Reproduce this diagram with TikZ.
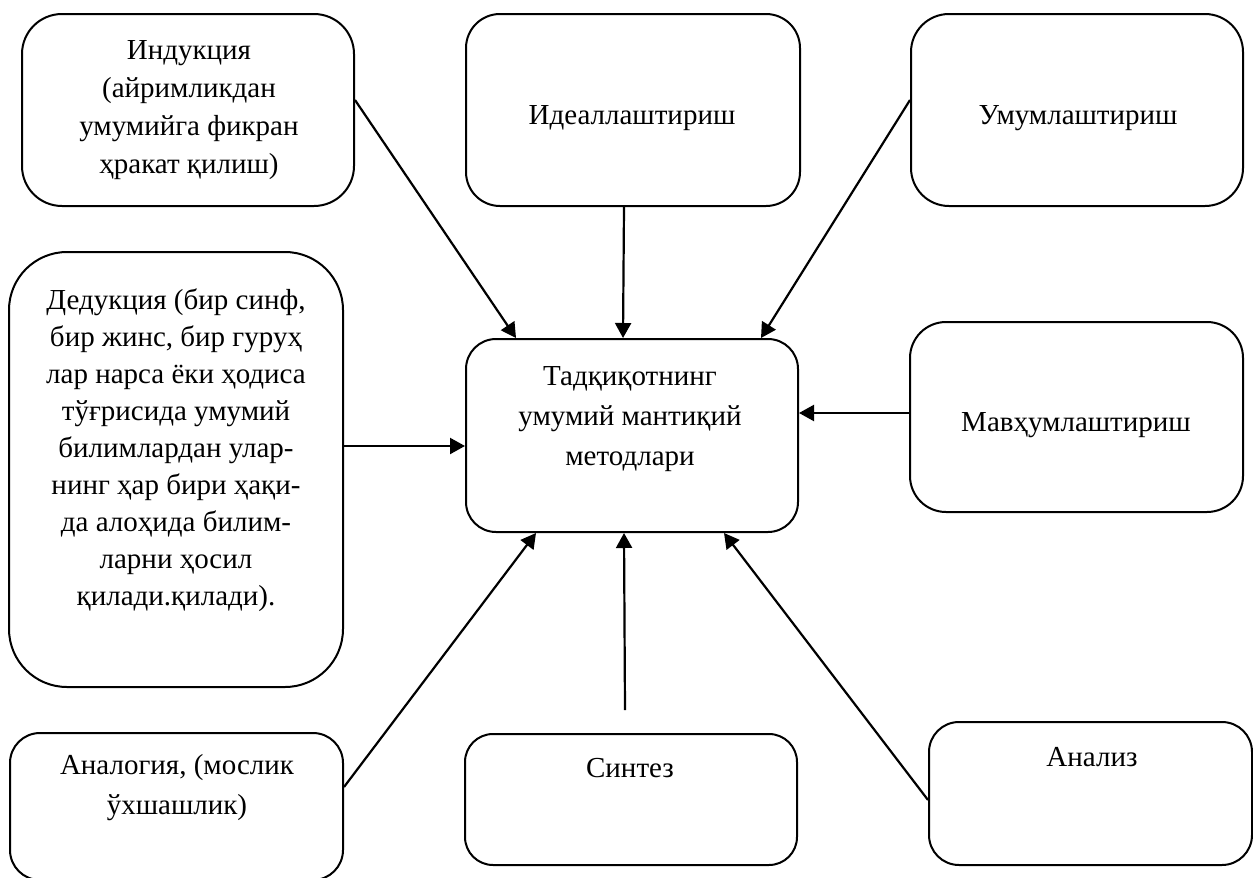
\documentclass[tikz,border=0pt]{standalone}
\usepackage{fontspec}
\setmainfont{Liberation Serif}
\usetikzlibrary{arrows.meta,calc}
\tikzset{
  box/.style={draw, line width=1pt, inner sep=0pt, fill=white},
  txt/.style={inner sep=0pt, align=center, font=\fontsize{14.5pt}{19pt}\selectfont},
  conn/.style={line width=1.1pt, -{Triangle[length=7.5pt,width=8pt]}}
}
\begin{document}
\begin{tikzpicture}[x=0.5pt,y=-0.5pt]
\useasboundingbox (0,0) rectangle (1253,878);
% boxes
\node[box, minimum width=166pt, minimum height=96pt, rounded corners=20pt] (ind) at (188,110) {};
\node[box, minimum width=167pt, minimum height=96pt, rounded corners=17pt] (ideal) at (633,110) {};
\node[box, minimum width=166pt, minimum height=96pt, rounded corners=19pt] (umuml) at (1077,110) {};
\node[box, minimum width=167pt, minimum height=217.5pt, rounded corners=29pt] (ded) at (176,469.5) {};
\node[box, minimum width=166pt, minimum height=96.5pt, rounded corners=15pt] (c) at (632,435.5) {};
\node[box, minimum width=166.5pt, minimum height=95pt, rounded corners=18pt] (mav) at (1076.5,417) {};
\node[box, minimum width=166.5pt, minimum height=73.5pt, rounded corners=15pt] (ana) at (176.5,806.5) {};
\node[box, minimum width=166pt, minimum height=65.5pt, rounded corners=14pt] (sin) at (631,799.5) {};
\node[box, minimum width=161.5pt, minimum height=71.5pt, rounded corners=15pt] (anz) at (1090.5,793.5) {};
% texts
\node[txt] (ind-t) at (189,110) {Индукция\\(айримликдан\\умумийга фикран\\ҳракат қилиш)};
\node[txt] (ideal-t) at (632,118) {Идеаллаштириш};
\node[txt] (umuml-t) at (1078,118) {Умумлаштириш};
\node[txt, font=\fontsize{14.5pt}{18.5pt}\selectfont] (ded-t) at (176,450) {Дедукция (бир синф,\\бир жинс, бир гуруҳ\\лар нарса ёки ҳодиса\\тўғрисида умумий\\билимлардан улар-\\нинг ҳар бири ҳақи-\\да алоҳида билим-\\ларни ҳосил\\қилади.қилади).};
\node[txt, font=\fontsize{14.5pt}{20pt}\selectfont] (c-t) at (630,419) {Тадқиқотнинг\\умумий мантиқий\\методлари};
\node[txt] (mav-t) at (1076,425) {Мавҳумлаштириш};
\node[txt, font=\fontsize{14.5pt}{20pt}\selectfont] (ana-t) at (177,788) {Аналогия, (мослик\\ўхшашлик)};
\node[txt] (sin-t) at (630,768) {Синтез};
\node[txt] (anz-t) at (1092,757) {Анализ};
% connectors
\coordinate (sinfree) at ($(sin.north)+(-6,-23)$);
\draw[conn] ($(ind.east)+(0,-10)$) -- ($(c.north west)+(51,0)$);
\draw[conn] ($(ideal.south)+(-9,0)$) -- ($(c.north west)+(158,0)$);
\draw[conn] ($(umuml.west)+(0,-10)$) -- ($(c.north west)+(296,0)$);
\draw[conn] ($(ded.east)+(0,-23.5)$) -- ($(c.west)+(0,10.5)$);
\draw[conn] ($(mav.west)+(0,-4)$) -- ($(c.east)+(0,-22.5)$);
\draw[conn] ($(ana.east)+(0,-19.5)$) -- ($(c.south west)+(71,0)$);
\draw[conn] (sinfree) -- ($(c.south west)+(159,0)$);
\draw[conn] ($(anz.west)+(0,6.5)$) -- ($(c.south west)+(259,0)$);
\end{tikzpicture}
\end{document}
